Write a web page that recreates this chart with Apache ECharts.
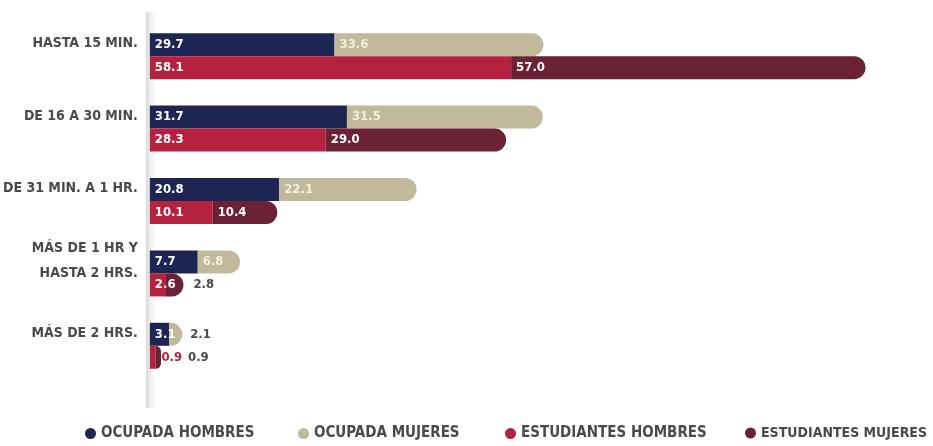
<!DOCTYPE html>
<html><head><meta charset="utf-8">
<script src="https://cdn.jsdelivr.net/npm/echarts@6/dist/echarts.min.js"></script>
<style>html,body{margin:0;padding:0;background:#fff}#c{width:933px;height:446px}</style>
</head><body><div id="c"></div>
<script>
const categories = ['HASTA 15 MIN.', 'DE 16 A 30 MIN.', 'DE 31 MIN. A 1 HR.', 'MÁS DE 1 HR Y\nHASTA 2 HRS.', 'MÁS DE 2 HRS.'];
const ocupadaHombres = [29.7, 31.7, 20.8, 7.7, 3.1];
const ocupadaMujeres = [33.6, 31.5, 22.1, 6.8, 2.1];
const estudiantesHombres = [58.1, 28.3, 10.1, 2.6, 0.9];
const estudiantesMujeres = [57.0, 29.0, 10.4, 2.8, 0.9];
const seriesNames = ['OCUPADA HOMBRES', 'OCUPADA MUJERES', 'ESTUDIANTES HOMBRES', 'ESTUDIANTES MUJERES'];

const FONT = '"DejaVu Sans Condensed", "Liberation Sans Narrow", sans-serif';
const colors = ['#1d2552', '#c0b99c', '#b4223f', '#6b2136'];
const cats = categories.slice().reverse();
const rev = a => a.slice().reverse();

function baseLabel(color) {
  return { show: true, position: 'insideLeft', distance: 5, color: color || '#fff', fontFamily: FONT,
    fontWeight: 'bold', fontSize: 13, formatter: p => p.value.toFixed(1) };
}
function mk(name, arr, stack, idx, radius, overrides) {
  const data = rev(arr).map((v, i) => {
    const o = { value: v };
    const origIdx = arr.length - 1 - i;
    if (overrides && overrides[origIdx]) o.label = overrides[origIdx];
    return o;
  });
  return {
    name, type: 'bar', stack, data, barWidth: 23, barGap: '0%', barCategoryGap: '35%',
    itemStyle: { color: colors[idx], borderRadius: radius ? [0, 12, 12, 0] : 0 },
    label: baseLabel(idx === 1 ? '#f4efdc' : '#fff')
  };
}
const legendLefts = [80, 293, 500, 740];
const legendSizes = [15, 15, 15, 14];
const option = {
  animation: false,
  graphic: [{ type: 'rect', left: 146, top: 12, z: 0, shape: { width: 12, height: 396 },
    style: { fill: new echarts.graphic.LinearGradient(0, 0, 1, 0, [{ offset: 0, color: '#d6d6d6' }, { offset: 1, color: 'rgba(255,255,255,0)' }]) } }],
  grid: { left: 148, right: 37, top: 20, bottom: 64 },
  xAxis: { type: 'value', min: 0, max: 120, show: false },
  yAxis: { type: 'category', data: cats, axisTick: { show: false }, axisLine: { show: false },
    axisLabel: { color: '#4a4a4a', fontFamily: FONT, fontWeight: 'bold', fontSize: 14, margin: 12,
      lineHeight: 25, align: 'right', formatter: v => v + '\n ' } },
  legend: seriesNames.map((n, i) => ({ top: 421, left: legendLefts[i], icon: 'circle', itemWidth: 11, itemHeight: 13, height: 20,
    textStyle: { color: '#4a4a4a', fontFamily: FONT, fontWeight: 'bold', fontSize: legendSizes[i] }, data: [n] })),
  series: [
    mk(seriesNames[0], ocupadaHombres, 'ocu', 0, false),
    mk(seriesNames[1], ocupadaMujeres, 'ocu', 1, true, { 4: { position: 'right', color: '#4a4a4a', distance: 8 } }),
    mk(seriesNames[2], estudiantesHombres, 'est', 2, false, { 4: { position: 'right', color: '#b4223f', distance: 6 } }),
    mk(seriesNames[3], estudiantesMujeres, 'est', 3, true, { 3: { position: 'right', color: '#4a4a4a', distance: 10 }, 4: { position: 'right', color: '#4a4a4a', distance: 5, offset: [22, 0] } })
  ]
};
echarts.init(document.getElementById('c')).setOption(option);
</script></body></html>
